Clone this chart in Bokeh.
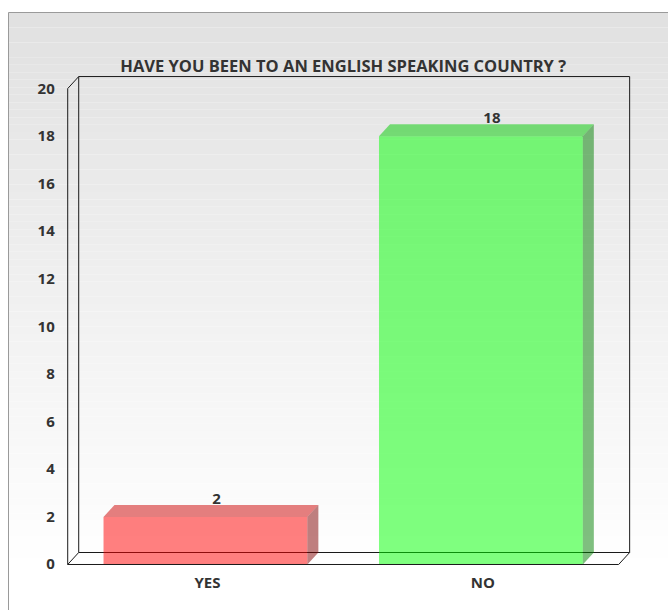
import numpy as np
from bokeh.plotting import figure
from bokeh.models import Range1d
from bokeh.core.properties import value
from bokeh.embed import file_html
from bokeh.resources import INLINE

# ---- data ----
title_text = "HAVE YOU BEEN TO AN ENGLISH SPEAKING COUNTRY ?"
categories = ["YES", "NO"]
counts = [2, 18]
y_ticks = [0, 2, 4, 6, 8, 10, 12, 14, 16, 18, 20]
y_max = 20

# ---- styles ----
front_colors = ["#ff0000", "#00ff00"]
top_colors = ["#cc0000", "#00cc00"]
side_colors = ["#800000", "#008000"]
FONT = "Open Sans"
FS = "15px"
W, H = 668, 610
XR = (-0.744, 1.681)
YR = (-1.933, 23.70)
sx = W / (XR[1] - XR[0])
sy = H / (YR[1] - YR[0])
dx = 11 / sx
dy = 12 / sy
half = 0.37

p = figure(width=W, height=H, x_range=Range1d(*XR), y_range=Range1d(*YR),
           output_backend="svg", toolbar_location=None, min_border=0,
           x_axis_type=None, y_axis_type=None,
           background_fill_color="white", border_fill_color="white",
           outline_line_color=None)
p.grid.visible = False

# background panel with vertical gradient
panel_left = XR[0] + 8 / sx
panel_top = YR[1] - 12 / sy
n = 80
edges = np.linspace(panel_top, YR[0], n + 1)
cols = []
for i in range(n):
    t = min(1.0, i / (n * 0.92))
    g = int(round(0xe1 + (0xff - 0xe1) * t))
    cols.append("#%02x%02x%02x" % (g, g, g))
p.quad(left=[panel_left] * n, right=[XR[1]] * n, top=edges[:-1], bottom=edges[1:],
       fill_color=cols, line_color=None)
p.line([panel_left, panel_left, XR[1]], [YR[0], panel_top, panel_top],
       line_color="#9a9a9a", line_width=1)

x0, x1 = -0.5, len(categories) - 0.5
box_color = "#1a1a1a"
# back wall and back floor
p.line([x0 + dx, x0 + dx, x1 + dx, x1 + dx], [dy, y_max + dy, y_max + dy, dy],
       line_color=box_color, line_width=1)
p.line([x0 + dx, x1 + dx], [dy, dy], line_color=box_color, line_width=1.2)
# front left wall
p.line([x0, x0, x0 + dx], [0, y_max, y_max + dy], line_color=box_color, line_width=1)

# bars
xs = list(range(len(categories)))
for i, v in enumerate(counts):
    c = xs[i]
    l, r = c - half, c + half
    p.patch([l, r, r, l], [0, 0, v, v], fill_color=front_colors[i], fill_alpha=0.5, line_color=None)
    p.patch([l, r, r + dx, l + dx], [v, v, v + dy, v + dy], fill_color=top_colors[i], fill_alpha=0.5, line_color=None)
    p.patch([r, r + dx, r + dx, r], [0, dy, v + dy, v], fill_color=side_colors[i], fill_alpha=0.5, line_color=None)

# front floor
p.line([x0 + dx, x0, x1, x1 + dx], [dy, 0, 0, dy], line_color=box_color, line_width=1)

TXT = dict(text_font=value(FONT), text_font_size=FS, text_color="#333333",
           text_font_style="bold")

# value labels
p.text(x=[c + dx for c in xs], y=[v + dy for v in counts], text=[str(v) for v in counts],
       text_align="center", text_baseline="bottom", y_offset=-1, **TXT)

# category labels
p.text(x=xs, y=[0] * len(xs), text=categories, text_align="center", text_baseline="middle",
       y_offset=18, x_offset=2, **TXT)

# y tick labels
p.text(x=[x0] * len(y_ticks), y=y_ticks, text=[str(t) for t in y_ticks], text_align="right",
       text_baseline="middle", x_offset=-13, **TXT)

# title
p.text(x=[(x0 + x1) / 2], y=[y_max + dy], text=[title_text], text_align="center",
       text_baseline="bottom", y_offset=0,
       text_font=value(FONT), text_font_size="16.5px", text_color="#333333",
       text_font_style="bold")

open("out.html", "w").write(file_html(p, INLINE))
